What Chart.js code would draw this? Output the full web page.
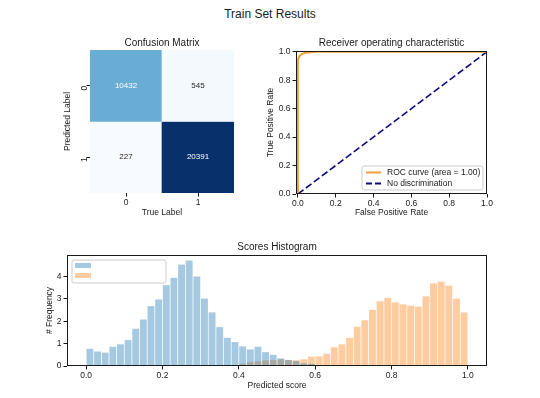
<!DOCTYPE html>
<html>
<head>
<meta charset="utf-8">
<script src="https://cdn.jsdelivr.net/npm/chart.js@4/dist/chart.umd.min.js"></script>
<style>
body{margin:0;background:#fff;width:540px;height:398px;position:relative;overflow:hidden;font-family:"Liberation Sans",Arial,sans-serif}
#suptitle{position:absolute;left:0;top:7px;width:540px;text-align:center;font-size:12px;line-height:14px;color:#1a1a1a}
canvas{position:absolute}
</style>
</head>
<body>
<div id="suptitle">Train Set Results</div>
<canvas id="cm" width="190" height="185" style="left:50px;top:37px"></canvas>
<canvas id="roc" width="247" height="186" style="left:250px;top:37px"></canvas>
<canvas id="hist" width="479" height="157" style="left:20px;top:241px"></canvas>
<script>

// =============================
// DATA
// =============================

// confusion matrix (rows = predicted, cols = true)
const cmLabels = ["0","1"]
const cmRow0 = [10432, 545]
const cmRow1 = [227, 20391]

// roc curve
const rocFpr = [0, 0, 0.003, 0.01, 0.02, 0.04, 0.07, 0.1, 1.0]
const rocTpr = [0, 0.93, 0.955, 0.972, 0.983, 0.992, 0.997, 1.0, 1.0]
const diagX = [0, 1]
const diagY = [0, 1]
const rocTicks = [0, 0.2, 0.4, 0.6, 0.8, 1.0]
const rocLegend = ["ROC curve (area = 1.00)", "No discrimination"]

// scores histogram, 50 bins of width 0.02 over [0,1]
const histBinWidth = 0.02
const histBlue = [
0.77,0.65,0.60,0.86,0.97,1.16,1.67,2.08,2.68,2.98,
3.62,3.95,4.54,4.72,4.01,3.02,2.40,1.74,1.26,1.07,
0.88,0.74,0.86,0.62,0.50,0.34,0.27,0.22,0.12,0.10,
0,0,0,0,0,0,0,0,0,0,
0,0,0,0,0,0,0,0,0,0
]
const histOrange = [
0,0,0,0,0,0,0,0,0,0,
0,0,0,0,0,0,0,0,0,0.03,
0.10,0.18,0.22,0.25,0.27,0.30,0.27,0.26,0.30,0.42,
0.43,0.55,0.84,0.97,1.26,1.76,2.05,2.52,2.90,3.05,
2.85,2.76,2.70,2.66,3.12,3.70,3.78,3.60,3.02,2.40
]
const histXTicks = [0, 0.2, 0.4, 0.6, 0.8, 1.0]
const histYTicks = [0, 1, 2, 3, 4]


// =============================
// SHARED STYLE
// =============================

const ink = "#1a1a1a"
const font = "'Liberation Sans', Arial, sans-serif"
Chart.defaults.font.family = font
Chart.defaults.font.size = 8.5
Chart.defaults.color = ink
Chart.defaults.animation = false

const blueFill = "rgba(31,119,180,0.4)"
const orangeFill = "rgba(255,127,14,0.4)"

// matplotlib "Blues" anchors
const blues = ["#f7fbff","#deebf7","#c6dbef","#9ecae1","#6baed6","#4292c6","#2171b5","#08519c","#08306b"]

function bluesColor(t){
t = Math.max(0, Math.min(1, t))
let p = t*(blues.length-1)
let i = Math.min(Math.floor(p), blues.length-2)
let f = p-i
let a = hex(blues[i]), b = hex(blues[i+1])
let c = a.map((v,k)=>Math.round(v+(b[k]-v)*f))
return "rgb("+c.join(",")+")"
}

function hex(h){
return [1,3,5].map(i=>parseInt(h.substr(i,2),16))
}

// fix axis thickness so the plot box lands where we want it
function fixSize(size){
return function(scale){
if(scale.isHorizontal()) scale.height = size
else scale.width = size
scale.paddingLeft = 0
scale.paddingRight = 0
scale.paddingTop = 0
scale.paddingBottom = 0
}
}

function setTicks(list){
return function(scale){
scale.ticks = list.map(v=>({value:v}))
}
}

function tickGrid(){
return {display:true, offset:false, drawOnChartArea:false, drawTicks:true, tickLength:3.5, color:ink, lineWidth:1}
}

// axes title centred over the plot box (not the whole canvas)
const axTitlePlugin = {
id:"axTitle",
afterDraw(chart, args, opts){
const a = chart.chartArea
const ctx = chart.ctx
ctx.save()
ctx.font = "10px "+font
ctx.fillStyle = ink
ctx.textAlign = "center"
ctx.textBaseline = "middle"
ctx.fillText(opts.text, (a.left+a.right)/2, a.top-opts.gap)
ctx.restore()
}
}

// box around the axes like matplotlib spines
const framePlugin = {
id:"frame",
afterDatasetsDraw(chart){
const a = chart.chartArea
const ctx = chart.ctx
ctx.save()
ctx.strokeStyle = ink
ctx.lineWidth = 1
ctx.strokeRect(Math.round(a.left)+0.5, Math.round(a.top)+0.5, Math.round(a.right-a.left)-1, Math.round(a.bottom-a.top)-1)
ctx.restore()
}
}

function roundBox(ctx, x, y, w, h, r){
ctx.beginPath()
ctx.moveTo(x+r, y)
ctx.arcTo(x+w, y, x+w, y+h, r)
ctx.arcTo(x+w, y+h, x, y+h, r)
ctx.arcTo(x, y+h, x, y, r)
ctx.arcTo(x, y, x+w, y, r)
ctx.closePath()
ctx.fillStyle = "rgba(255,255,255,0.8)"
ctx.fill()
ctx.strokeStyle = "#cccccc"
ctx.lineWidth = 1
ctx.stroke()
}


// =============================
// CONFUSION MATRIX
// =============================

function initConfusion(){

const rows = [cmRow0, cmRow1]
const all = cmRow0.concat(cmRow1)
const lo = Math.min(...all), hi = Math.max(...all)

const annotate = {
id:"annotate",
afterDatasetsDraw(chart){
const ctx = chart.ctx
const xs = chart.scales.x, ys = chart.scales.y
ctx.save()
ctx.font = "8px "+font
ctx.textAlign = "center"
ctx.textBaseline = "middle"
rows.forEach((row,r)=>{
row.forEach((v,c)=>{
ctx.fillStyle = (v-lo)/(hi-lo) > 0.4 ? "#ffffff" : "#262626"
ctx.fillText(String(v), xs.getPixelForValue(c), ys.getPixelForValue(r+0.5))
})
})
ctx.restore()
}
}

new Chart(document.getElementById("cm"),{
type:"bar",
data:{
labels:cmLabels,
datasets:rows.map((row,r)=>({
data:row.map(()=>[r, r+1]),
backgroundColor:row.map(v=>bluesColor((v-lo)/(hi-lo))),
borderWidth:0,
grouped:false,
barPercentage:1,
categoryPercentage:1
}))
},
options:{
responsive:false,
layout:{padding:{left:0, right:6, top:13, bottom:0}},
plugins:{
legend:{display:false},
tooltip:{enabled:false},
axTitle:{text:"Confusion Matrix", gap:7}
},
scales:{
x:{
grid:tickGrid(),
border:{display:false},
ticks:{padding:1},
title:{display:true, text:"True Label", padding:{top:0, bottom:4}},
afterFit:fixSize(29)
},
y:{
type:"linear",
min:0, max:2, reverse:true,
grid:tickGrid(),
border:{display:false},
afterBuildTicks:setTicks([0.5,1.5]),
ticks:{padding:2, minRotation:90, maxRotation:90, callback:(v,i)=>cmLabels[i]},
title:{display:true, text:"Predicted Label", padding:{top:13, bottom:0}},
afterFit:fixSize(40)
}
}
},
plugins:[annotate, axTitlePlugin]
})

}


// =============================
// ROC CURVE
// =============================

function initRoc(){

const legendPlugin = {
id:"rocLegend",
afterDatasetsDraw(chart){
const a = chart.chartArea
const ctx = chart.ctx
const w = 121, h = 24
const x = a.right-4-w, y = a.bottom-4-h
ctx.save()
roundBox(ctx, x, y, w, h, 2)
ctx.lineWidth = 2
ctx.strokeStyle = "#f0a030"
ctx.beginPath(); ctx.moveTo(x+4, y+6.5); ctx.lineTo(x+19, y+6.5); ctx.stroke()
ctx.strokeStyle = "#0a0a80"
ctx.setLineDash([6,3])
ctx.beginPath(); ctx.moveTo(x+4, y+17.5); ctx.lineTo(x+19, y+17.5); ctx.stroke()
ctx.setLineDash([])
ctx.fillStyle = ink
ctx.font = "8.5px "+font
ctx.textBaseline = "middle"
ctx.fillText(rocLegend[0], x+25, y+6.5)
ctx.fillText(rocLegend[1], x+25, y+17.5)
ctx.restore()
}
}

new Chart(document.getElementById("roc"),{
type:"scatter",
data:{
datasets:[
{
label:rocLegend[0],
data:rocFpr.map((x,i)=>({x:x, y:rocTpr[i]})),
showLine:true,
borderColor:"#f0a030",
borderWidth:2,
pointRadius:0,
tension:0
},
{
label:rocLegend[1],
data:diagX.map((x,i)=>({x:x, y:diagY[i]})),
showLine:true,
borderColor:"#0a0a80",
borderWidth:1.6,
borderDash:[7,3],
pointRadius:0
}
]
},
options:{
responsive:false,
layout:{padding:{left:0, right:10, top:14, bottom:0}},
plugins:{
legend:{display:false},
tooltip:{enabled:false},
axTitle:{text:"Receiver operating characteristic", gap:8}
},
scales:{
x:{
type:"linear", min:-0.01, max:1.0,
grid:tickGrid(),
border:{display:false},
afterBuildTicks:setTicks(rocTicks),
ticks:{padding:1, maxRotation:0, callback:v=>v.toFixed(1)},
title:{display:true, text:"False Positive Rate", padding:{top:0, bottom:5}},
afterFit:fixSize(29)
},
y:{
type:"linear", min:0, max:1.005,
grid:tickGrid(),
border:{display:false},
afterBuildTicks:setTicks(rocTicks),
ticks:{padding:2, callback:v=>v.toFixed(1)},
title:{display:true, text:"True Positive Rate", padding:{top:16, bottom:0}},
afterFit:fixSize(46)
}
}
},
plugins:[framePlugin, legendPlugin, axTitlePlugin]
})

}


// =============================
// SCORES HISTOGRAM
// =============================

function initHist(){

const centers = histBlue.map((v,i)=>histBinWidth*i+histBinWidth/2)

const legendPlugin = {
id:"histLegend",
afterDatasetsDraw(chart){
const a = chart.chartArea
const ctx = chart.ctx
const x = a.left+5, y = a.top+5
ctx.save()
roundBox(ctx, x, y, 94, 23, 2)
ctx.fillStyle = blueFill
ctx.fillRect(x+3, y+3, 16, 5)
ctx.fillStyle = orangeFill
ctx.fillRect(x+3, y+13, 16, 5)
ctx.restore()
}
}

new Chart(document.getElementById("hist"),{
type:"bar",
data:{
datasets:[
{
data:centers.map((c,i)=>({x:c, y:histBlue[i]})),
backgroundColor:blueFill,
borderWidth:0,
grouped:false,
barPercentage:0.9,
categoryPercentage:1
},
{
data:centers.map((c,i)=>({x:c, y:histOrange[i]})),
backgroundColor:orangeFill,
borderWidth:0,
grouped:false,
barPercentage:0.9,
categoryPercentage:1
}
]
},
options:{
responsive:false,
layout:{padding:{left:0, right:12, top:14, bottom:0}},
plugins:{
legend:{display:false},
tooltip:{enabled:false},
axTitle:{text:"Scores Histogram", gap:7.5}
},
scales:{
x:{
type:"linear", min:-0.05, max:1.05, offset:false,
grid:tickGrid(),
border:{display:false},
afterBuildTicks:setTicks(histXTicks),
ticks:{padding:1, maxRotation:0, callback:v=>v.toFixed(1)},
title:{display:true, text:"Predicted score", padding:{top:0, bottom:7.5}},
afterFit:fixSize(32)
},
y:{
type:"linear", min:0, max:4.97,
grid:tickGrid(),
border:{display:false},
afterBuildTicks:setTicks(histYTicks),
ticks:{padding:2, callback:v=>String(v)},
title:{display:true, text:"# Frequency", padding:{top:25, bottom:0}},
afterFit:fixSize(47)
}
}
},
plugins:[framePlugin, legendPlugin, axTitlePlugin]
})

}


// =============================
// INITIALIZE
// =============================

initConfusion()
initRoc()
initHist()

</script>
</body>
</html>
